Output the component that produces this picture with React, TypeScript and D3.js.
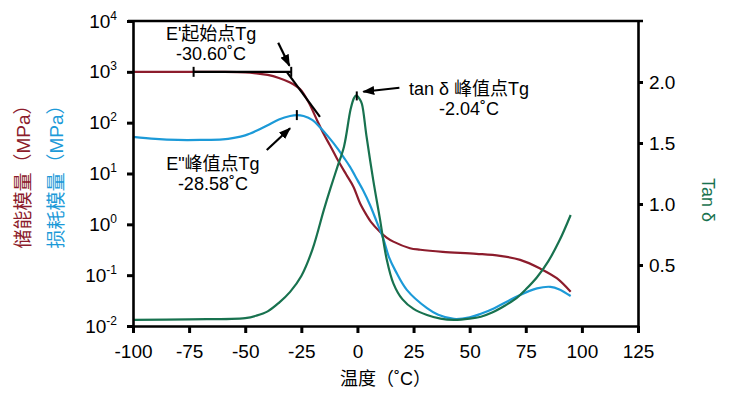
import { useEffect, useRef } from 'react';
import * as d3 from 'd3';

// 储能模量 E' (MPa) vs temperature (°C)
const storageTemp = [-100, -75, -60, -50, -45, -40, -35, -30, -25.6, -22, -18, -15.2, -12.2, -9.2, -5, -1.8, 1.2, 4.1, 6, 10.1, 13, 16, 23.4, 28, 38, 53, 63.5, 72.5, 81.4, 88.8, 95];
const storageMPa = [1000, 1000, 1000, 977, 933, 871, 759, 617, 457, 263, 112, 61.7, 35.5, 20.0, 9.55, 5.5, 2.57, 1.51, 1.12, 0.708, 0.55, 0.457, 0.339, 0.316, 0.288, 0.263, 0.24, 0.2, 0.135, 0.087, 0.047];

// 损耗模量 E'' (MPa)
const lossTemp = [-100, -90, -80, -70, -60, -55, -50, -45, -40, -35, -30, -27, -24, -20, -16.7, -12.2, -9, -6, -3.3, 0, 2.5, 5.6, 8.6, 11.5, 14, 17, 22, 31, 36, 43, 50, 55, 61, 71, 80, 86, 90, 95];
const lossMPa = [52.5, 47.9, 45.7, 45.7, 46.8, 50.1, 56.2, 69.2, 89.1, 115, 135, 141, 135, 112, 81.3, 47.9, 31.6, 20.4, 13.5, 7.41, 4.68, 2.4, 1.12, 0.525, 0.229, 0.12, 0.0513, 0.0224, 0.0166, 0.0138, 0.0148, 0.0174, 0.0224, 0.038, 0.055, 0.059, 0.0525, 0.0389];

// tan δ
const tanTemp = [-100, -75, -50, -45, -40, -35, -30, -25, -20, -15, -12, -9, -6, -3, -1.5, -0.5, 1, 2, 4, 7, 10, 13, 16, 20, 25, 31, 37, 43, 50, 55, 60, 66, 71, 75, 80, 85, 90, 95];
const tanDelta = [0.05, 0.055, 0.065, 0.085, 0.12, 0.19, 0.28, 0.41, 0.63, 0.95, 1.13, 1.3, 1.47, 1.78, 1.87, 1.89, 1.86, 1.82, 1.56, 1.2, 0.88, 0.55, 0.35, 0.22, 0.14, 0.09, 0.06, 0.05, 0.06, 0.076, 0.11, 0.17, 0.23, 0.3, 0.4, 0.53, 0.7, 0.91];

// ticks
const xTicks = [-100, -75, -50, -25, 0, 25, 50, 75, 100, 125];
const logTicks = [0.01, 0.1, 1, 10, 100, 1000, 10000];
const tanTicks = [0.5, 1.0, 1.5, 2.0];

// annotation anchors (temperature, value)
const onsetBase: [number, number][] = [[-73, 1000], [-29.5, 1000]];
const onsetTangent: [number, number][] = [[-31.5, 1000], [-16.7, 130]];
const lossPeak: [number, number] = [-27, 141];
const tanPeak: [number, number] = [-0.3, 1.89];

const RED = '#8c1c2c';
const BLUE = '#1c9ad8';
const GREEN = '#18724f';
const FONT = '"Liberation Sans", "Noto Sans CJK SC", sans-serif';

export default function App() {
    const svgRef = useRef<SVGSVGElement | null>(null);

    useEffect(() => {
        if (!svgRef.current) return;
        const svg = d3.select(svgRef.current);
        svg.selectAll('*').remove();

        const left = 133, right = 638, top = 21, bottom = 326;

        const x = d3.scaleLinear().domain([-100, 125]).range([left, right]);
        const y = d3.scaleLog().domain([0.01, 10000]).range([bottom, top]);
        const yTan = d3.scaleLinear().domain([0, 2.5]).range([bottom, top]);

        // arrowhead marker
        svg.append('defs').append('marker')
            .attr('id', 'arrow')
            .attr('markerUnits', 'userSpaceOnUse')
            .attr('markerWidth', 12).attr('markerHeight', 9)
            .attr('refX', 11).attr('refY', 4.5)
            .attr('orient', 'auto')
            .append('path').attr('d', 'M0,0 L12,4.5 L0,9 Z').attr('fill', '#000');

        // curves
        const smooth = d3.curveCatmullRom.alpha(0.5);
        const modLine = (ts: number[], vs: number[]) => d3.line<number>()
            .x((_, i) => x(ts[i]))
            .y(d => y(d))
            .curve(smooth)(vs);
        const tanLine = d3.line<number>()
            .x((_, i) => x(tanTemp[i]))
            .y(d => yTan(d))
            .curve(smooth);

        svg.append('path').attr('d', modLine(storageTemp, storageMPa) || '')
            .attr('fill', 'none').attr('stroke', RED).attr('stroke-width', 2.2);
        svg.append('path').attr('d', modLine(lossTemp, lossMPa) || '')
            .attr('fill', 'none').attr('stroke', BLUE).attr('stroke-width', 2.2);
        svg.append('path').attr('d', tanLine(tanDelta) || '')
            .attr('fill', 'none').attr('stroke', GREEN).attr('stroke-width', 2.2);

        // axes
        const xAxis = svg.append('g').attr('transform', `translate(0,${bottom})`)
            .call(d3.axisBottom(x).tickValues(xTicks).tickSize(7).tickSizeOuter(0).tickPadding(12).tickFormat(d => String(d)));
        const yAxis = svg.append('g').attr('transform', `translate(${left},0)`)
            .call(d3.axisLeft(y).tickValues(logTicks).tickSize(6).tickSizeOuter(0).tickPadding(10));
        const rAxis = svg.append('g').attr('transform', `translate(${right},0)`)
            .call(d3.axisRight(yTan).tickValues(tanTicks).tickSize(5).tickSizeOuter(0).tickPadding(6).tickFormat(d3.format('.1f')));

        [xAxis, yAxis, rAxis].forEach(a => {
            a.select('.domain').attr('stroke', '#000').attr('stroke-width', 2.6);
            a.selectAll('.tick line').attr('stroke', '#000').attr('stroke-width', 3);
            a.selectAll('.tick text').attr('fill', '#000').attr('font-size', 19).attr('font-family', FONT);
        });

        // 10^n labels
        yAxis.selectAll<SVGTextElement, number>('.tick text').each(function (d) {
            const t = d3.select(this);
            t.text(null);
            t.append('tspan').text('10');
            t.append('tspan').attr('dy', -8).attr('font-size', 12).text(String(Math.round(Math.log10(d))));
        });

        // top frame
        svg.append('line').attr('x1', left - 5).attr('x2', right + 5)
            .attr('y1', top).attr('y2', top).attr('stroke', '#000').attr('stroke-width', 2.4);

        // E' onset construction
        const bl = svg.append('g').attr('stroke', '#000');
        bl.append('line')
            .attr('x1', x(onsetBase[0][0])).attr('y1', y(onsetBase[0][1]))
            .attr('x2', x(onsetBase[1][0])).attr('y2', y(onsetBase[1][1]))
            .attr('stroke-width', 2.2);
        onsetBase.forEach(([t, v]) => {
            bl.append('line').attr('x1', x(t)).attr('x2', x(t))
                .attr('y1', y(v) - 5).attr('y2', y(v) + 5).attr('stroke-width', 2);
        });
        bl.append('line')
            .attr('x1', x(onsetTangent[0][0])).attr('y1', y(onsetTangent[0][1]))
            .attr('x2', x(onsetTangent[1][0])).attr('y2', y(onsetTangent[1][1]))
            .attr('stroke-width', 2.2);

        // peak markers
        bl.append('line').attr('x1', x(lossPeak[0])).attr('x2', x(lossPeak[0]))
            .attr('y1', y(lossPeak[1]) - 5).attr('y2', y(lossPeak[1]) + 5).attr('stroke-width', 2);
        bl.append('line').attr('x1', x(tanPeak[0])).attr('x2', x(tanPeak[0]))
            .attr('y1', yTan(tanPeak[1]) - 4).attr('y2', yTan(tanPeak[1]) + 5).attr('stroke-width', 2);

        // arrows
        const arrow = (x1: number, y1: number, x2: number, y2: number) =>
            svg.append('line').attr('x1', x1).attr('y1', y1).attr('x2', x2).attr('y2', y2)
                .attr('stroke', '#000').attr('stroke-width', 2.2).attr('marker-end', 'url(#arrow)');
        arrow(x(-35.3), y(3740), x(-30.3), y(1318));
        arrow(x(-40.4), y(29), x(-30), y(77.6));
        arrow(x(18.7), yTan(1.953), x(2.6), yTan(1.92));

        // annotation text
        const label = (cx: number, by: number, lines: string[]) => {
            lines.forEach((s, i) => {
                svg.append('text').attr('x', cx).attr('y', by + i * 20)
                    .attr('text-anchor', 'middle').attr('font-size', 18)
                    .attr('font-family', FONT).attr('fill', '#000').text(s);
            });
        };
        label(x(-65.2), y(4230), ["E'起始点Tg", '-30.60˚C']);
        label(x(-64.4), y(11.7), ['E"峰值点Tg', '-28.58˚C']);
        label(x(49.7), yTan(1.893), ['tan δ 峰值点Tg', '-2.04˚C']);

        // axis titles
        svg.append('text').attr('x', (x(0) + x(25)) / 2).attr('y', 385)
            .attr('text-anchor', 'middle').attr('font-size', 18).attr('font-family', FONT)
            .attr('fill', '#000').text('温度（˚C）');
        svg.append('text').attr('transform', `translate(30,172) rotate(-90)`)
            .attr('text-anchor', 'middle').attr('font-size', 19).attr('font-family', FONT)
            .attr('fill', RED).text('储能模量（MPa）');
        svg.append('text').attr('transform', `translate(63,172) rotate(-90)`)
            .attr('text-anchor', 'middle').attr('font-size', 19).attr('font-family', FONT)
            .attr('fill', BLUE).text('损耗模量（MPa）');
        svg.append('text').attr('transform', `translate(702,200) rotate(90)`)
            .attr('text-anchor', 'middle').attr('font-size', 18).attr('font-family', FONT)
            .attr('fill', GREEN).text('Tan δ');

        return () => { svg.selectAll('*').remove(); };
    }, []);

    return (
        <svg ref={svgRef} width={738} height={407}
            style={{ position: 'absolute', left: 0, top: 0, background: '#fff' }} />
    );
}
